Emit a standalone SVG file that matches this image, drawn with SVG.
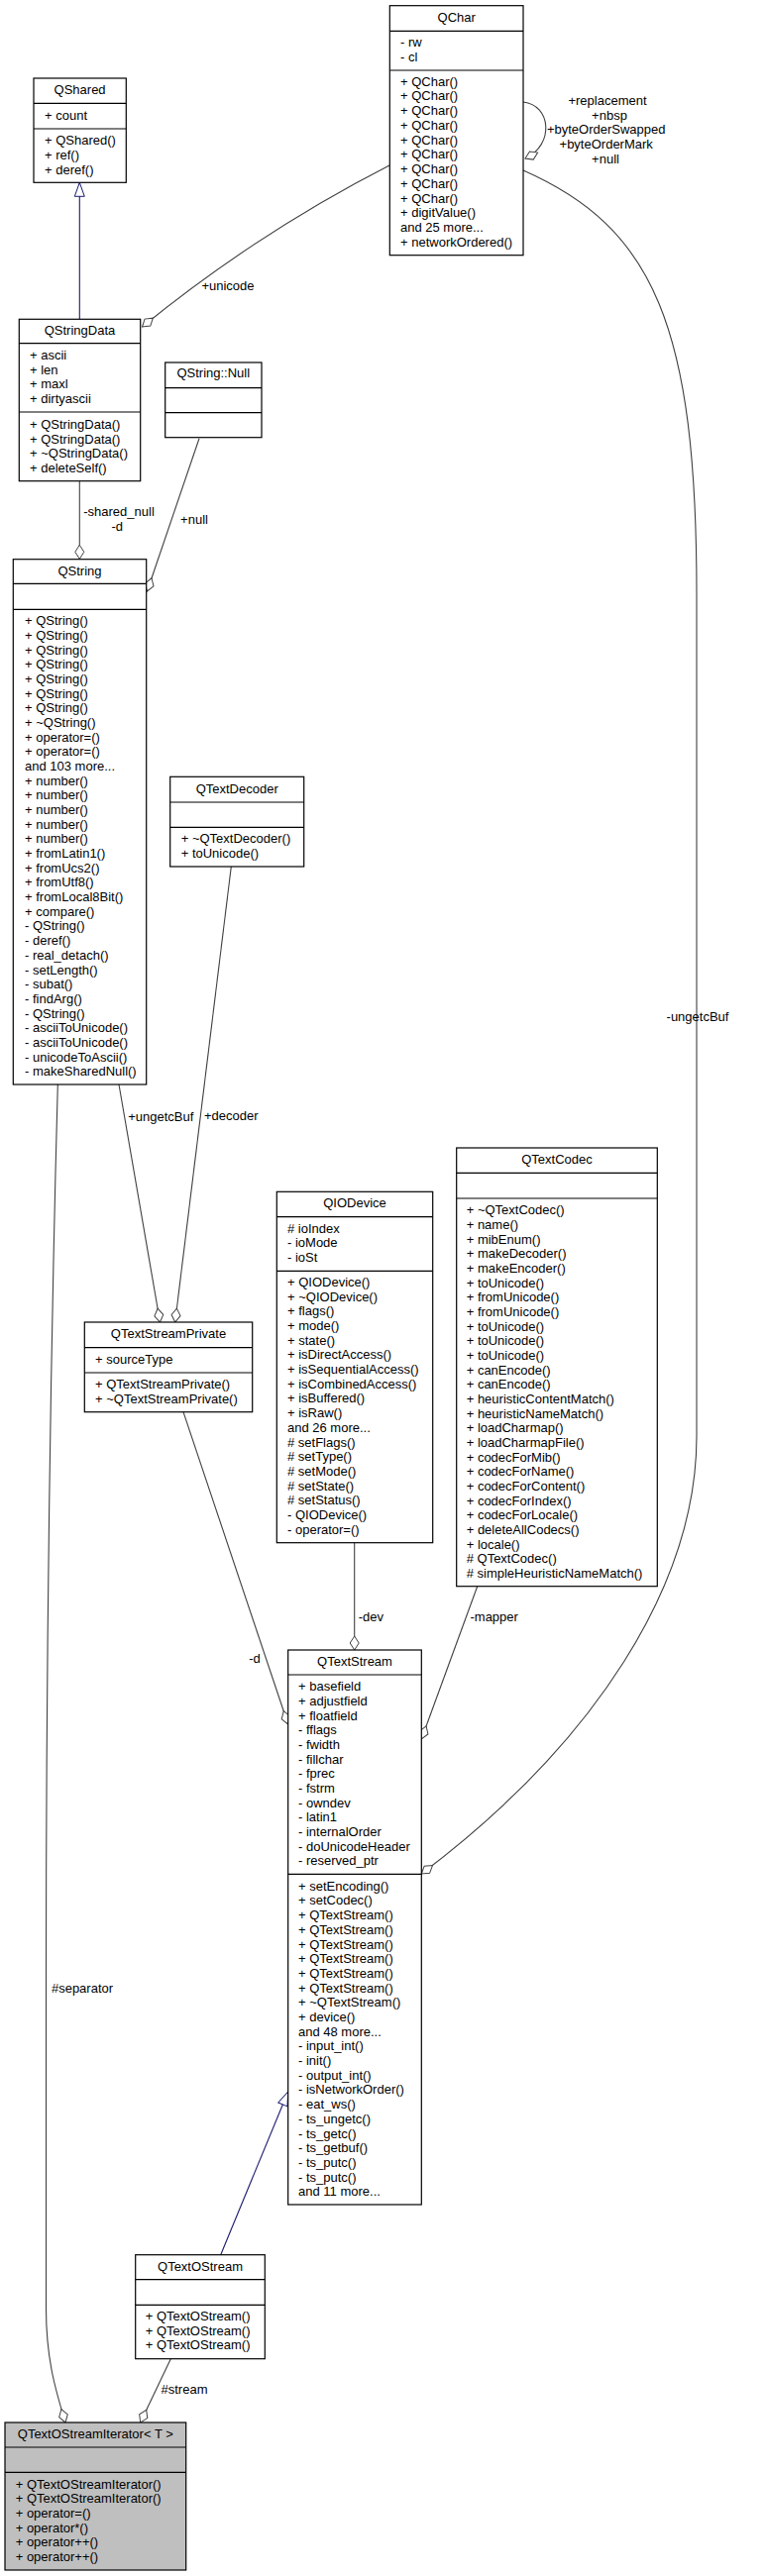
<svg xmlns="http://www.w3.org/2000/svg" width="774" height="2601" viewBox="0 0 774 2601">
<style>
text{font-family:"Liberation Sans",Arial,sans-serif;font-size:13px;fill:#000}
.c{text-anchor:middle}
.box{fill:#fff;stroke:#000;stroke-width:1.2}
.sel{fill:#bfbfbf;stroke:#000;stroke-width:1.2}
.sep{stroke:#000;stroke-width:1.2}
.e{fill:none;stroke:#404040;stroke-width:1.1}
.i{fill:none;stroke:#191970;stroke-width:1.1}
</style>
<defs>
<marker id="dia" viewBox="0 0 16 11" markerWidth="16" markerHeight="11" refX="15" refY="5.5" orient="auto" markerUnits="userSpaceOnUse" overflow="visible"><path d="M1,5.5 L8,1 L15,5.5 L8,10 Z" fill="#fff" stroke="#404040" stroke-width="1"/></marker>
<marker id="tri" viewBox="0 0 16 11" markerWidth="16" markerHeight="11" refX="15" refY="5.5" orient="auto" markerUnits="userSpaceOnUse" overflow="visible"><path d="M1,0.5 L15,5.5 L1,10.5 Z" fill="#fff" stroke="#191970" stroke-width="1"/></marker>
</defs>
<rect width="774" height="2601" fill="#fff"/>

<g id="edges">
<path class="i" d="M80.3,322.3 L80.3,184.3" marker-end="url(#tri)"/>
<path class="e" d="M393,167 Q260,235 143.5,330" marker-end="url(#dia)"/>
<path class="e" d="M80.3,486 L80.3,564.3" marker-end="url(#dia)"/>
<path class="e" d="M201,442.7 L148.5,597" marker-end="url(#dia)"/>
<path class="e" d="M528,103 C556,106 560,146 530,160" marker-end="url(#dia)"/>
<path class="e" d="M528,172 C660,230 703,330 703,600 L703,1450 C703,1600 600,1760 425.3,1892" marker-end="url(#dia)"/>
<path class="e" d="M120,1095 L161.5,1335" marker-end="url(#dia)"/>
<path class="e" d="M233.3,875 L176.7,1335" marker-end="url(#dia)"/>
<path class="e" d="M185,1425.7 L290.7,1741" marker-end="url(#dia)"/>
<path class="e" d="M357.7,1557.7 L357.7,1666" marker-end="url(#dia)"/>
<path class="e" d="M481.7,1601.7 L425.3,1756" marker-end="url(#dia)"/>
<path class="i" d="M222.7,2276.7 L290.7,2112" marker-end="url(#tri)"/>
<path class="e" d="M58.3,1095 C50,1400 46.5,1700 46.5,2000 L46.5,2330 C46.5,2380 55,2410 66,2446" marker-end="url(#dia)"/>
<path class="e" d="M172.3,2381.7 L141.7,2446" marker-end="url(#dia)"/>
<text class="c" x="230" y="293.2">+unicode</text>
<text class="c" x="120" y="520.5">-shared_null</text>
<text class="c" x="118.3" y="536.2">-d</text>
<text class="c" x="196" y="528.5">+null</text>
<text class="c" x="613" y="106.2">+replacement</text>
<text class="c" x="615" y="121.2">+nbsp</text>
<text class="c" x="611.7" y="135.2">+byteOrderSwapped</text>
<text class="c" x="611.7" y="150.2">+byteOrderMark</text>
<text class="c" x="611" y="165.2">+null</text>
<text class="c" x="704" y="1031">-ungetcBuf</text>
<text class="c" x="162.3" y="1131.8">+ungetcBuf</text>
<text class="c" x="233.3" y="1131.2">+decoder</text>
<text class="c" x="257" y="1679">-d</text>
<text class="c" x="374.3" y="1637.2">-dev</text>
<text class="c" x="498.7" y="1637.2">-mapper</text>
<text class="c" x="83" y="2012">#separator</text>
<text class="c" x="186" y="2416.8">#stream</text>
</g>

<g id="QChar">
<rect class="box" x="393.3" y="5.7" width="134.7" height="252"/>
<line class="sep" x1="393.3" y1="31.3" x2="528" y2="31.3"/>
<line class="sep" x1="393.3" y1="71" x2="528" y2="71"/>
<text class="c" x="460.7" y="21.8">QChar</text>
<text x="404" y="47.2">- rw</text>
<text x="404" y="62.2">- cl</text>
<text x="404" y="86.5">+ QChar()<tspan x="404" dy="14.75">+ QChar()</tspan><tspan x="404" dy="14.75">+ QChar()</tspan><tspan x="404" dy="14.75">+ QChar()</tspan><tspan x="404" dy="14.75">+ QChar()</tspan><tspan x="404" dy="14.75">+ QChar()</tspan><tspan x="404" dy="14.75">+ QChar()</tspan><tspan x="404" dy="14.75">+ QChar()</tspan><tspan x="404" dy="14.75">+ QChar()</tspan><tspan x="404" dy="14.75">+ digitValue()</tspan><tspan x="404" dy="14.75">and 25 more...</tspan><tspan x="404" dy="14.75">+ networkOrdered()</tspan></text>
</g>

<g id="QShared">
<rect class="box" x="34" y="79" width="93.3" height="105.3"/>
<line class="sep" x1="34" y1="104.3" x2="127.3" y2="104.3"/>
<line class="sep" x1="34" y1="130" x2="127.3" y2="130"/>
<text class="c" x="80.6" y="94.5">QShared</text>
<text x="45" y="121.2">+ count</text>
<text x="45" y="146.2">+ QShared()<tspan x="45" dy="14.7">+ ref()</tspan><tspan x="45" dy="14.7">+ deref()</tspan></text>
</g>

<g id="QStringData">
<rect class="box" x="19.3" y="322.3" width="122.4" height="163.4"/>
<line class="sep" x1="19.3" y1="346.7" x2="141.7" y2="346.7"/>
<line class="sep" x1="19.3" y1="416" x2="141.7" y2="416"/>
<text class="c" x="80.5" y="337.8">QStringData</text>
<text x="30" y="362.8">+ ascii<tspan x="30" dy="14.7">+ len</tspan><tspan x="30" dy="14.7">+ maxl</tspan><tspan x="30" dy="14.7">+ dirtyascii</tspan></text>
<text x="30" y="432.8">+ QStringData()<tspan x="30" dy="14.7">+ QStringData()</tspan><tspan x="30" dy="14.7">+ ~QStringData()</tspan><tspan x="30" dy="14.7">+ deleteSelf()</tspan></text>
</g>

<g id="QStringNull">
<rect class="box" x="166.7" y="366" width="97.3" height="75.7"/>
<line class="sep" x1="166.7" y1="391.7" x2="264" y2="391.7"/>
<line class="sep" x1="166.7" y1="416.7" x2="264" y2="416.7"/>
<text class="c" x="215.3" y="381.2">QString::Null</text>
</g>

<g id="QString">
<rect class="box" x="13.3" y="564.7" width="134.4" height="530.3"/>
<line class="sep" x1="13.3" y1="589.3" x2="147.7" y2="589.3"/>
<line class="sep" x1="13.3" y1="615.3" x2="147.7" y2="615.3"/>
<text class="c" x="80.5" y="581.2">QString</text>
<text x="25" y="631.2">+ QString()<tspan x="25" dy="14.68">+ QString()</tspan><tspan x="25" dy="14.68">+ QString()</tspan><tspan x="25" dy="14.68">+ QString()</tspan><tspan x="25" dy="14.68">+ QString()</tspan><tspan x="25" dy="14.68">+ QString()</tspan><tspan x="25" dy="14.68">+ QString()</tspan><tspan x="25" dy="14.68">+ ~QString()</tspan><tspan x="25" dy="14.68">+ operator=()</tspan><tspan x="25" dy="14.68">+ operator=()</tspan><tspan x="25" dy="14.68">and 103 more...</tspan><tspan x="25" dy="14.68">+ number()</tspan><tspan x="25" dy="14.68">+ number()</tspan><tspan x="25" dy="14.68">+ number()</tspan><tspan x="25" dy="14.68">+ number()</tspan><tspan x="25" dy="14.68">+ number()</tspan><tspan x="25" dy="14.68">+ fromLatin1()</tspan><tspan x="25" dy="14.68">+ fromUcs2()</tspan><tspan x="25" dy="14.68">+ fromUtf8()</tspan><tspan x="25" dy="14.68">+ fromLocal8Bit()</tspan><tspan x="25" dy="14.68">+ compare()</tspan><tspan x="25" dy="14.68">- QString()</tspan><tspan x="25" dy="14.68">- deref()</tspan><tspan x="25" dy="14.68">- real_detach()</tspan><tspan x="25" dy="14.68">- setLength()</tspan><tspan x="25" dy="14.68">- subat()</tspan><tspan x="25" dy="14.68">- findArg()</tspan><tspan x="25" dy="14.68">- QString()</tspan><tspan x="25" dy="14.68">- asciiToUnicode()</tspan><tspan x="25" dy="14.68">- asciiToUnicode()</tspan><tspan x="25" dy="14.68">- unicodeToAscii()</tspan><tspan x="25" dy="14.68">- makeSharedNull()</tspan></text>
</g>

<g id="QTextDecoder">
<rect class="box" x="171.7" y="784.3" width="135" height="90.7"/>
<line class="sep" x1="171.7" y1="810" x2="306.7" y2="810"/>
<line class="sep" x1="171.7" y1="835.3" x2="306.7" y2="835.3"/>
<text class="c" x="239.2" y="800.5">QTextDecoder</text>
<text x="182.7" y="851.2">+ ~QTextDecoder()<tspan x="182.7" dy="14.7">+ toUnicode()</tspan></text>
</g>

<g id="QTextStreamPrivate">
<rect class="box" x="85.3" y="1335" width="169.4" height="90.7"/>
<line class="sep" x1="85.3" y1="1360.7" x2="254.7" y2="1360.7"/>
<line class="sep" x1="85.3" y1="1386" x2="254.7" y2="1386"/>
<text class="c" x="170" y="1351.2">QTextStreamPrivate</text>
<text x="96" y="1377.2">+ sourceType</text>
<text x="96" y="1401.8">+ QTextStreamPrivate()<tspan x="96" dy="14.7">+ ~QTextStreamPrivate()</tspan></text>
</g>

<g id="QIODevice">
<rect class="box" x="279.3" y="1203.3" width="157.4" height="354.4"/>
<line class="sep" x1="279.3" y1="1228.7" x2="436.7" y2="1228.7"/>
<line class="sep" x1="279.3" y1="1283.3" x2="436.7" y2="1283.3"/>
<text class="c" x="358" y="1218.8">QIODevice</text>
<text x="290" y="1244.5"># ioIndex<tspan x="290" dy="14.7">- ioMode</tspan><tspan x="290" dy="14.7">- ioSt</tspan></text>
<text x="290" y="1298.8">+ QIODevice()<tspan x="290" dy="14.7">+ ~QIODevice()</tspan><tspan x="290" dy="14.7">+ flags()</tspan><tspan x="290" dy="14.7">+ mode()</tspan><tspan x="290" dy="14.7">+ state()</tspan><tspan x="290" dy="14.7">+ isDirectAccess()</tspan><tspan x="290" dy="14.7">+ isSequentialAccess()</tspan><tspan x="290" dy="14.7">+ isCombinedAccess()</tspan><tspan x="290" dy="14.7">+ isBuffered()</tspan><tspan x="290" dy="14.7">+ isRaw()</tspan><tspan x="290" dy="14.7">and 26 more...</tspan><tspan x="290" dy="14.7"># setFlags()</tspan><tspan x="290" dy="14.7"># setType()</tspan><tspan x="290" dy="14.7"># setMode()</tspan><tspan x="290" dy="14.7"># setState()</tspan><tspan x="290" dy="14.7"># setStatus()</tspan><tspan x="290" dy="14.7">- QIODevice()</tspan><tspan x="290" dy="14.7">- operator=()</tspan></text>
</g>

<g id="QTextCodec">
<rect class="box" x="460.7" y="1159" width="202.6" height="442.7"/>
<line class="sep" x1="460.7" y1="1184.3" x2="663.3" y2="1184.3"/>
<line class="sep" x1="460.7" y1="1210" x2="663.3" y2="1210"/>
<text class="c" x="562" y="1175.2">QTextCodec</text>
<text x="470.7" y="1226.2">+ ~QTextCodec()<tspan x="470.7" dy="14.67">+ name()</tspan><tspan x="470.7" dy="14.67">+ mibEnum()</tspan><tspan x="470.7" dy="14.67">+ makeDecoder()</tspan><tspan x="470.7" dy="14.67">+ makeEncoder()</tspan><tspan x="470.7" dy="14.67">+ toUnicode()</tspan><tspan x="470.7" dy="14.67">+ fromUnicode()</tspan><tspan x="470.7" dy="14.67">+ fromUnicode()</tspan><tspan x="470.7" dy="14.67">+ toUnicode()</tspan><tspan x="470.7" dy="14.67">+ toUnicode()</tspan><tspan x="470.7" dy="14.67">+ toUnicode()</tspan><tspan x="470.7" dy="14.67">+ canEncode()</tspan><tspan x="470.7" dy="14.67">+ canEncode()</tspan><tspan x="470.7" dy="14.67">+ heuristicContentMatch()</tspan><tspan x="470.7" dy="14.67">+ heuristicNameMatch()</tspan><tspan x="470.7" dy="14.67">+ loadCharmap()</tspan><tspan x="470.7" dy="14.67">+ loadCharmapFile()</tspan><tspan x="470.7" dy="14.67">+ codecForMib()</tspan><tspan x="470.7" dy="14.67">+ codecForName()</tspan><tspan x="470.7" dy="14.67">+ codecForContent()</tspan><tspan x="470.7" dy="14.67">+ codecForIndex()</tspan><tspan x="470.7" dy="14.67">+ codecForLocale()</tspan><tspan x="470.7" dy="14.67">+ deleteAllCodecs()</tspan><tspan x="470.7" dy="14.67">+ locale()</tspan><tspan x="470.7" dy="14.67"># QTextCodec()</tspan><tspan x="470.7" dy="14.67"># simpleHeuristicNameMatch()</tspan></text>
</g>

<g id="QTextStream">
<rect class="box" x="290.7" y="1666" width="134.6" height="560"/>
<line class="sep" x1="290.7" y1="1691" x2="425.3" y2="1691"/>
<line class="sep" x1="290.7" y1="1892.3" x2="425.3" y2="1892.3"/>
<text class="c" x="358" y="1682">QTextStream</text>
<text x="301" y="1707.2">+ basefield<tspan x="301" dy="14.67">+ adjustfield</tspan><tspan x="301" dy="14.67">+ floatfield</tspan><tspan x="301" dy="14.67">- fflags</tspan><tspan x="301" dy="14.67">- fwidth</tspan><tspan x="301" dy="14.67">- fillchar</tspan><tspan x="301" dy="14.67">- fprec</tspan><tspan x="301" dy="14.67">- fstrm</tspan><tspan x="301" dy="14.67">- owndev</tspan><tspan x="301" dy="14.67">- latin1</tspan><tspan x="301" dy="14.67">- internalOrder</tspan><tspan x="301" dy="14.67">- doUnicodeHeader</tspan><tspan x="301" dy="14.67">- reserved_ptr</tspan></text>
<text x="301" y="1908.8">+ setEncoding()<tspan x="301" dy="14.69">+ setCodec()</tspan><tspan x="301" dy="14.69">+ QTextStream()</tspan><tspan x="301" dy="14.69">+ QTextStream()</tspan><tspan x="301" dy="14.69">+ QTextStream()</tspan><tspan x="301" dy="14.69">+ QTextStream()</tspan><tspan x="301" dy="14.69">+ QTextStream()</tspan><tspan x="301" dy="14.69">+ QTextStream()</tspan><tspan x="301" dy="14.69">+ ~QTextStream()</tspan><tspan x="301" dy="14.69">+ device()</tspan><tspan x="301" dy="14.69">and 48 more...</tspan><tspan x="301" dy="14.69">- input_int()</tspan><tspan x="301" dy="14.69">- init()</tspan><tspan x="301" dy="14.69">- output_int()</tspan><tspan x="301" dy="14.69">- isNetworkOrder()</tspan><tspan x="301" dy="14.69">- eat_ws()</tspan><tspan x="301" dy="14.69">- ts_ungetc()</tspan><tspan x="301" dy="14.69">- ts_getc()</tspan><tspan x="301" dy="14.69">- ts_getbuf()</tspan><tspan x="301" dy="14.69">- ts_putc()</tspan><tspan x="301" dy="14.69">- ts_putc()</tspan><tspan x="301" dy="14.69">and 11 more...</tspan></text>
</g>

<g id="QTextOStream">
<rect class="box" x="136.7" y="2276.7" width="130.6" height="105"/>
<line class="sep" x1="136.7" y1="2301.7" x2="267.3" y2="2301.7"/>
<line class="sep" x1="136.7" y1="2327.3" x2="267.3" y2="2327.3"/>
<text class="c" x="202" y="2292.8">QTextOStream</text>
<text x="146.7" y="2342.8">+ QTextOStream()<tspan x="146.7" dy="14.7">+ QTextOStream()</tspan><tspan x="146.7" dy="14.7">+ QTextOStream()</tspan></text>
</g>

<g id="QTextOStreamIterator">
<rect class="sel" x="5" y="2446" width="182.7" height="149"/>
<line class="sep" x1="5" y1="2471" x2="187.7" y2="2471"/>
<line class="sep" x1="5" y1="2496.3" x2="187.7" y2="2496.3"/>
<text class="c" x="96.3" y="2462.2">QTextOStreamIterator&lt; T &gt;</text>
<text x="15.7" y="2512.8">+ QTextOStreamIterator()<tspan x="15.7" dy="14.6">+ QTextOStreamIterator()</tspan><tspan x="15.7" dy="14.6">+ operator=()</tspan><tspan x="15.7" dy="14.6">+ operator*()</tspan><tspan x="15.7" dy="14.6">+ operator++()</tspan><tspan x="15.7" dy="14.6">+ operator++()</tspan></text>
</g>
</svg>
